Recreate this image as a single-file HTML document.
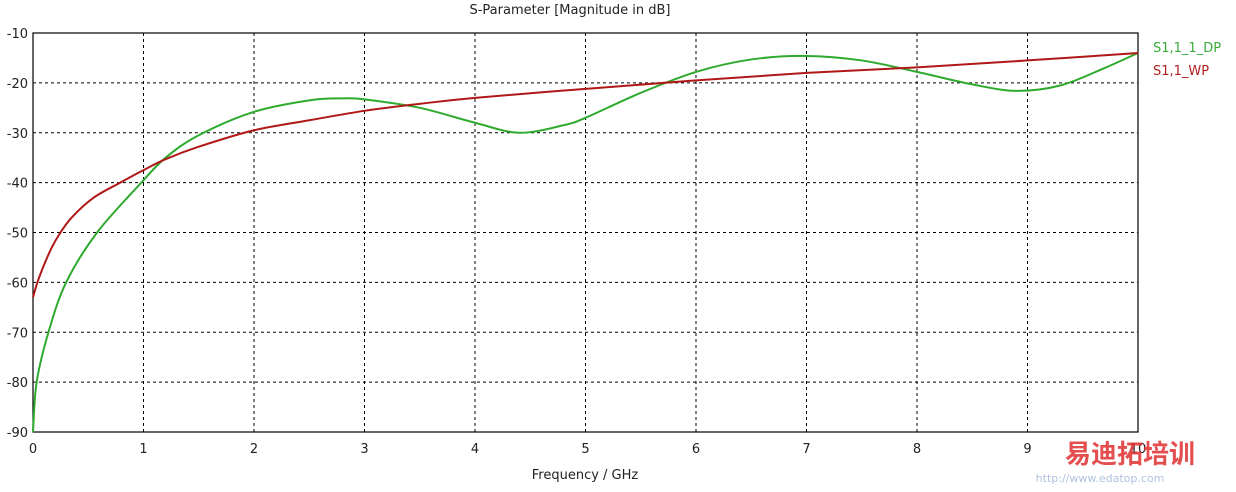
<!DOCTYPE html>
<html><head><meta charset="utf-8"><style>
body{margin:0;background:#fff;width:1236px;height:487px;overflow:hidden;font-family:"Liberation Sans","DejaVu Sans",sans-serif}
svg text{font-family:"DejaVu Sans","Liberation Sans",sans-serif;font-size:13px}
</style></head><body>
<svg id="chart" width="1236" height="487">
<text x="570" y="14" text-anchor="middle" fill="#222">S-Parameter [Magnitude in dB]</text>
<g id="grid"></g><g id="axes"></g><g id="series"></g>
<text x="585" y="479" text-anchor="middle" fill="#222">Frequency / GHz</text>
<text x="1153" y="52" fill="#3aab3a">S1,1_1_DP</text>
<text x="1153" y="75" fill="#b02020">S1,1_WP</text>
<text x="1130" y="463" text-anchor="middle" fill="#e03030" opacity="0.85" style="font-family:'Noto Sans CJK SC',sans-serif;font-size:26px;font-weight:bold">易迪拓培训</text>
<text x="1100" y="482" text-anchor="middle" fill="#7799cc" opacity="0.6" style="font-size:11px">http://www.edatop.com</text>
</svg>
<script>
const xTicks=[0,1,2,3,4,5,6,7,8,9,10];
const yTicks=[-10,-20,-30,-40,-50,-60,-70,-80,-90];
const freq=[0,0.033,0.14,0.3,0.58,0.98,1.2,1.5,2,2.5,2.8,3,3.5,4,4.4,4.8,5,5.5,6,6.5,7,7.5,8,8.5,8.9,9.3,9.7,10];
const dpValues=[-90,-80,-70,-60,-50,-40,-35,-30.5,-25.8,-23.5,-23.1,-23.3,-25,-28,-30,-28.5,-27,-22,-17.8,-15.3,-14.6,-15.5,-17.8,-20.3,-21.6,-20.5,-17,-14];
const wpFreq=[0,0.04,0.1,0.17,0.24,0.35,0.55,0.79,1,1.2,1.5,2,2.5,3,3.5,4,5,6,7,8,9,10];
const wpValues=[-63,-60,-56.5,-53,-50.3,-47,-43,-40,-37.5,-35.3,-32.8,-29.5,-27.5,-25.6,-24.2,-23,-21.2,-19.5,-18,-16.9,-15.5,-14];
const L=33,R=1138,T=33,B=432;
const xs=v=>L+(v-0)/10*(R-L);
const ys=v=>T+(-10-v)/80*(B-T);
const NS='http://www.w3.org/2000/svg';
function mk(tag,attrs,parent){const e=document.createElementNS(NS,tag);for(const k in attrs)e.setAttribute(k,attrs[k]);parent.appendChild(e);return e;}
const grid=document.getElementById('grid'),axes=document.getElementById('axes'),ser=document.getElementById('series');
xTicks.forEach(t=>{
 if(t>0&&t<10){const l=mk('line',{x1:xs(t),x2:xs(t),y1:T,y2:B,stroke:'#000','stroke-dasharray':'3,3'},grid);
 
 }
 const tx=mk('text',{x:xs(t),y:B+21,'text-anchor':'middle',fill:'#222'},axes);tx.textContent=t;
 
 
});
yTicks.forEach(t=>{
 if(t>-90&&t<-10){const l=mk('line',{x1:L,x2:R,y1:ys(t),y2:ys(t),stroke:'#000','stroke-dasharray':'3,3'},grid);
 
 }
 const tx=mk('text',{x:28,y:ys(t)+5,'text-anchor':'end',fill:'#222'},axes);tx.textContent=t;
 
 
});
const fr=mk('rect',{x:L,y:T,width:R-L,height:B-T,fill:'none',stroke:'#000','stroke-width':1.2},axes);


function path(xv,yv){
 const p=xv.map((x,i)=>[xs(x),ys(yv[i])]);
 let d='M'+p[0][0]+','+p[0][1];
 for(let i=0;i<p.length-1;i++){
  const p0=p[i-1]||p[i],p1=p[i],p2=p[i+1],p3=p[i+2]||p2;
  const c1=[p1[0]+(p2[0]-p0[0])/6,p1[1]+(p2[1]-p0[1])/6];
  const c2=[p2[0]-(p3[0]-p1[0])/6,p2[1]-(p3[1]-p1[1])/6];
  d+=' C'+c1+' '+c2+' '+p2;
 }
 return d;
}
const g=mk('path',{d:path(freq,dpValues),fill:'none',stroke:'#2eaa2e','stroke-width':2},ser);


const r=mk('path',{d:path(wpFreq,wpValues),fill:'none',stroke:'#b01818','stroke-width':2},ser);


</script>
</body></html>
